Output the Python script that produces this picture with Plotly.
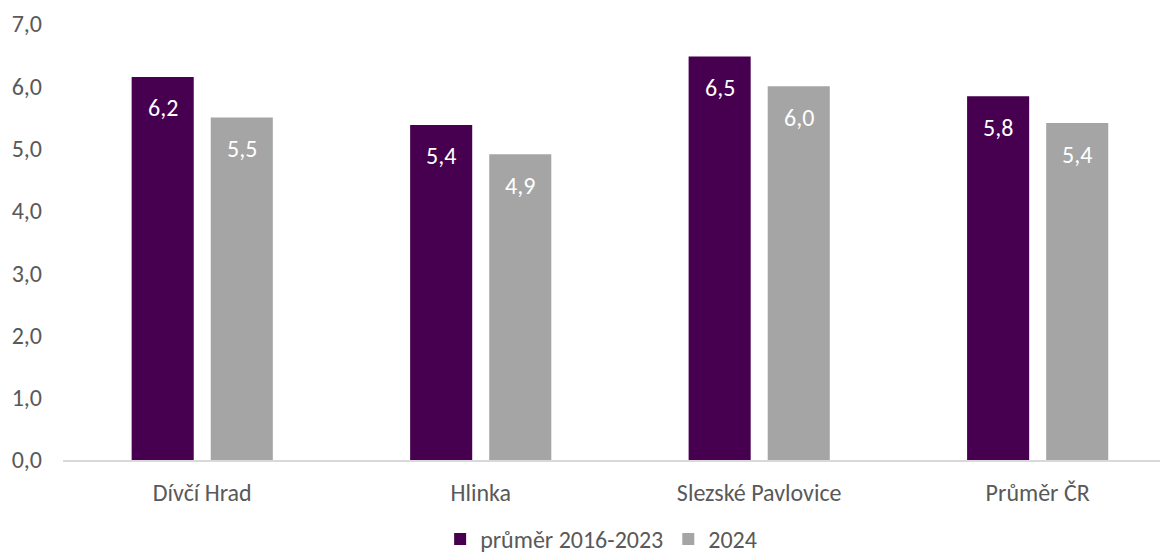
import plotly.graph_objects as go

categories = ["Dívčí Hrad", "Hlinka", "Slezské Pavlovice", "Průměr ČR"]
avg_2016_2023 = [6.15, 5.38, 6.48, 5.84]
values_2024 = [5.50, 4.91, 6.00, 5.41]
series_names = ["průměr 2016-2023", "2024"]
y_ticks = [0, 1, 2, 3, 4, 5, 6, 7]

font_family = "Carlito, Calibri, 'Open Sans', sans-serif"
FS = 24
bargap = 0.432
bargroupgap = 0.215

fig = go.Figure()
fig.add_trace(go.Bar(x=categories, y=avg_2016_2023, name=series_names[0],
                     marker=dict(color="#46004F", line=dict(width=0))))
fig.add_trace(go.Bar(x=categories, y=values_2024, name=series_names[1],
                     marker=dict(color="#A5A5A5", line=dict(width=0))))

# data labels placed via the category axis (index +/- half slot width)
slot = (1 - bargap) / 2
for series, sign in ((avg_2016_2023, -1), (values_2024, 1)):
    for i, v in enumerate(series):
        fig.add_annotation(x=i + sign * slot / 2, y=v, xref="x", yref="y",
                           text=f"{v:.1f}".replace(".", ","), showarrow=False,
                           yshift=-31, font=dict(color="white", size=FS, family=font_family))

fig.update_layout(
    width=1160, height=546,
    margin=dict(l=55, r=0, t=16, b=94, autoexpand=False),
    paper_bgcolor="white", plot_bgcolor="white",
    separators=", ",
    barmode="group", bargap=bargap, bargroupgap=bargroupgap,
    font=dict(family=font_family, size=FS, color="#595959"),
    showlegend=True,
    legend=dict(orientation="h", x=0.487, xanchor="center", y=-0.182, yanchor="middle",
                font=dict(size=FS, color="#595959"), itemwidth=30, traceorder="normal"),
)
fig.update_xaxes(showline=True, linecolor="#D9D9D9", linewidth=1.5, ticks="",
                 showgrid=False, ticklabelstandoff=10, range=[-0.5, 3.468],
                 tickfont=dict(size=FS, color="#595959"))
fig.update_yaxes(range=[0, 7], tickvals=y_ticks, tickformat=".1f", showgrid=False,
                 zeroline=False, showline=False, ticks="", ticklabelstandoff=20,
                 tickfont=dict(size=FS, color="#595959"))

fig.write_html("out.html")
